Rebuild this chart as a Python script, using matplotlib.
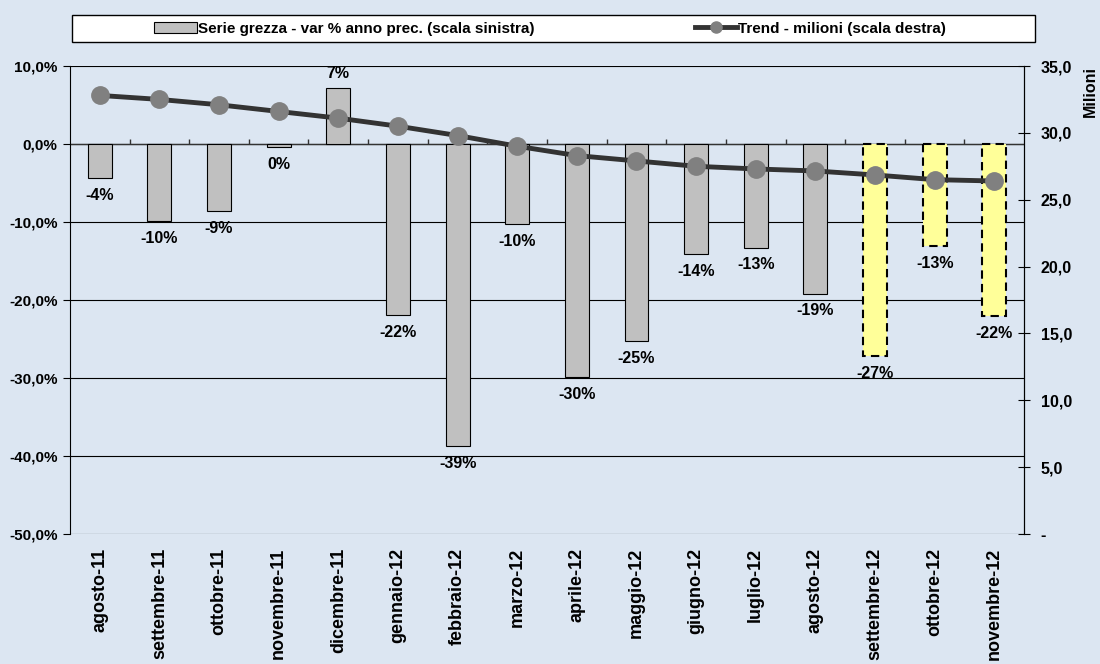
import numpy as np
import matplotlib.pyplot as plt
from matplotlib.patches import Rectangle, Patch
from matplotlib.lines import Line2D
from matplotlib.ticker import FuncFormatter

plt.rcParams['font.family'] = ['Liberation Sans', 'DejaVu Sans']
plt.rcParams['font.weight'] = 'bold'

months = ['agosto-11', 'settembre-11', 'ottobre-11', 'novembre-11', 'dicembre-11',
          'gennaio-12', 'febbraio-12', 'marzo-12', 'aprile-12', 'maggio-12',
          'giugno-12', 'luglio-12', 'agosto-12', 'settembre-12', 'ottobre-12',
          'novembre-12']
var_pct = [-4.4, -9.9, -8.6, -0.4, 7.2, -21.9, -38.7, -10.3, -29.9, -25.3,
           -14.1, -13.3, -19.2, -27.2, -13.1, -22.1]
bar_labels = ['-4%', '-10%', '-9%', '0%', '7%', '-22%', '-39%', '-10%', '-30%', '-25%',
              '-14%', '-13%', '-19%', '-27%', '-13%', '-22%']
trend_mil = [32.8, 32.5, 32.1, 31.6, 31.1, 30.5, 29.8, 29.0, 28.3, 27.9,
             27.5, 27.3, 27.15, 26.85, 26.5, 26.4]
n_estimated = 3  # last months are estimates (yellow, dashed)

bg = '#DCE6F2'
fig = plt.figure(figsize=(11, 6.64), dpi=100, facecolor=bg)
ax = fig.add_axes([0.0636, 0.1958, 0.8674, 0.7048])
ax.set_facecolor(bg)

x = np.arange(len(months))
n = len(months)
for i in range(n):
    if i >= n - n_estimated:
        ax.bar(x[i], var_pct[i], width=0.4, color='#FFFF99', edgecolor='black',
               linestyle=(0, (4, 2.5)), linewidth=1.5, zorder=2)
    else:
        ax.bar(x[i], var_pct[i], width=0.4, color='#C0C0C0', edgecolor='black',
               linewidth=0.8, zorder=2)
    if var_pct[i] >= 1:
        ax.annotate(bar_labels[i], (x[i], var_pct[i]), xytext=(0, 5), textcoords='offset points',
                    ha='center', va='bottom', fontsize=11.5, fontweight='bold')
    else:
        ax.annotate(bar_labels[i], (x[i], min(var_pct[i], 0)), xytext=(0, -7),
                    textcoords='offset points', ha='center', va='top',
                    fontsize=11.5, fontweight='bold')

ax.set_xlim(-0.5, n - 0.5)
ax.set_ylim(-50, 10)
ax.set_yticks(np.arange(-50, 11, 10))
ax.yaxis.set_major_formatter(FuncFormatter(lambda v, p: f'{v:.1f}%'.replace('.', ',')))
ax.grid(axis='y', color='black', linewidth=0.8, zorder=0)
ax.set_axisbelow(True)
ax.axhline(0, color='#333333', linewidth=1.0, zorder=1)
ax.vlines(x[1:] - 0.5, 0, 0.7, color='#333333', linewidth=1.0, zorder=1)

ax.set_xticks(x)
ax.set_xticklabels(months, rotation=90, va='top', ha='center')
ax.tick_params(axis='x', length=0, pad=10, labelsize=13)
ax.tick_params(axis='y', direction='out', length=5, labelsize=11, pad=4)
for s in ['top', 'bottom']:
    ax.spines[s].set_visible(False)
ax.spines['left'].set_color('black')

ax2 = ax.twinx()
ax2.plot(x, trend_mil, color='#333333', linewidth=3.5, marker='o', markersize=12.5,
         markerfacecolor='#808080', markeredgecolor='#808080', zorder=3)
ax2.set_ylim(0, 35)
ax2.set_yticks(np.arange(0, 36, 5))
ax2.yaxis.set_major_formatter(FuncFormatter(lambda v, p: '-' if v == 0 else f'{v:.1f}'.replace('.', ',')))
ax2.tick_params(axis='y', direction='inout', length=8, labelsize=11.5, pad=8)
for s in ['top', 'bottom', 'left']:
    ax2.spines[s].set_visible(False)
ax2.set_ylabel('Milioni', loc='top', fontsize=11.5, fontweight='bold', labelpad=8)

# legend box across the top
fig.patches.append(Rectangle((72 / 1100, 1 - 42 / 664), 963 / 1100, 27 / 664,
                             transform=fig.transFigure, facecolor='white',
                             edgecolor='black', linewidth=1.0))
handles = [Patch(facecolor='#C0C0C0', edgecolor='black', linewidth=0.8),
           Line2D([0], [0], color='#333333', linewidth=3.5, marker='o', markersize=8,
                  markerfacecolor='#808080', markeredgecolor='#808080')]
fig.legend(handles, ['Serie grezza - var % anno prec. (scala sinistra)',
                     'Trend - milioni (scala destra)'],
           loc='center', bbox_to_anchor=(0.5, 1 - 28.5 / 664), ncol=2, frameon=False,
           fontsize=11, handlelength=2.8, handletextpad=0.05, columnspacing=10.5)

fig.savefig('out.png', dpi=100, facecolor=bg)
